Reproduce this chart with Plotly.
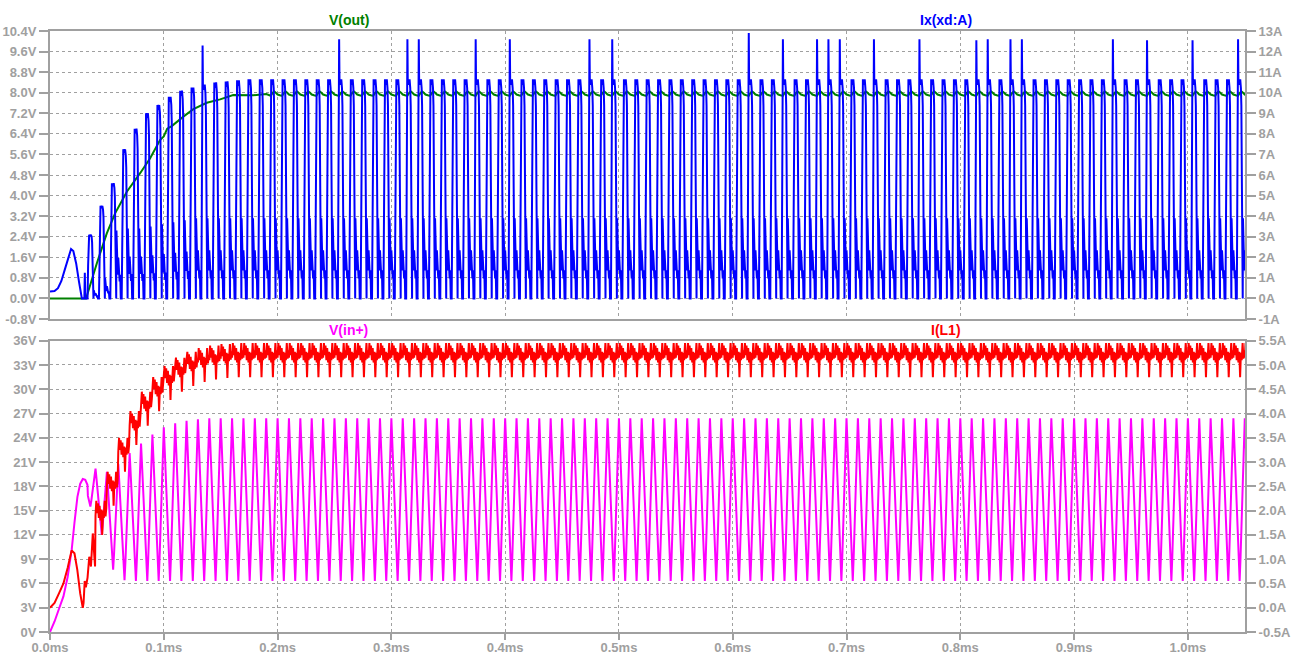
import numpy as np
import plotly.graph_objects as go

PERIOD = 0.01        # switching period in ms (100 kHz)
N_CYCLES = 106
US = 1e-3            # microseconds -> ms

# ---------------- Ix(xd:A)  [A] ----------------
ix_pre_t = [0.0, 0.004, 0.007, 0.010, 0.013, 0.016, 0.0185, 0.0205, 0.023, 0.0255,
            0.0275, 0.028, 0.0302, 0.0306, 0.031, 0.0329]
ix_pre_a = [0.34, 0.36, 0.5, 0.85, 1.4, 2.0, 2.4, 2.3, 1.7, 0.8,
            0.05, 0.0, 0.0, 1.25, 0.0, 0.0]
ix_offset_us = 3.0
ix_main_phase = [0.0, 0.5, 0.9, 1.4, 2.2, 3.0, 3.6, 4.0, 4.5, 4.9]
ix_main_shape = [0.0, 0.52, 0.9, 1.0, 0.975, 1.0, 0.96, 0.88, 0.5, 0.0]
ix_ring_phase = [5.2, 5.4, 5.9, 6.5, 7.0, 7.6, 8.2, 8.7, 9.2]
ix_ring_shape = [0.0, 1.0, 0.75, 0.35, 0.6, 0.45, 0.25, 0.35, 0.0]
ix_first_cycle = 3
ix_main_amp = [3.1, 4.5, 5.6, 7.25, 8.25, 9.0, 9.4, 9.8, 10.1, 10.25, 10.4, 10.5, 10.55, 10.6]
ix_main_amp_steady = 10.65
ix_ring_amp = [0.4, 1.0, 3.3, 3.4, 3.4, 3.5, 3.6, 3.7, 3.8]
ix_ring_amp_steady = 3.9
ix_spike_phase = 1.1
ix_spike_cycles = [13, 25, 31, 32, 37, 40, 47, 49, 61, 64, 67, 68, 69, 72, 76,
                   81, 82, 84, 85, 93, 96, 100, 104]
ix_spike_a = [12.3, 12.6, 12.6, 12.6, 12.6, 12.6, 12.6, 12.6, 12.9, 12.6, 12.6, 12.6,
              12.6, 12.6, 12.6, 12.55, 12.6, 12.6, 12.6, 12.6, 12.55, 12.55, 12.6]

# ---------------- V(out)  [V] ----------------
vout_pre_t = [0.0, 0.0317, 0.0411, 0.0499, 0.0572, 0.0675, 0.0792, 0.088, 0.0967,
              0.1, 0.103, 0.107, 0.1172, 0.126, 0.1378, 0.1495, 0.161, 0.1785, 0.19]
vout_pre_v = [0.0, 0.0, 1.36, 2.53, 3.31, 4.15, 4.87, 5.45, 6.16,
              6.3, 6.6, 6.7, 7.07, 7.36, 7.61, 7.74, 7.91, 7.9, 7.95]
vout_phase = [0.0, 2.0, 4.0, 5.5, 7.0, 8.5]
vout_ripple = [7.93, 7.90, 7.88, 7.98, 8.05, 8.0]
vout_first_cycle = 19

# ---------------- V(in+)  [V] ----------------
vin_pre_t = [0.0, 0.004, 0.008, 0.0118, 0.0155, 0.0191, 0.0215, 0.0241, 0.0265,
             0.0288, 0.031, 0.0329]
vin_pre_v = [0.0, 1.3, 2.9, 4.4, 6.8, 10.2, 13.5, 16.7, 18.3, 18.9, 18.8, 18.2]
vin_fall_phase = [0.0, 0.4, 1.5, 2.2, 3.3, 4.6, 5.5]
vin_fall_shape = [1.0, 0.93, 0.72, 0.62, 0.40, 0.12, 0.0]
vin_rise_phase = [6.3, 7.2, 7.8, 8.8, 9.6]
vin_rise_shape = [0.15, 0.38, 0.5, 0.75, 0.95]
vin_first_cycle = 3
vin_peak = [18.8, 20.2, 19.8, 20.8, 22.1, 23.3, 24.4, 25.3, 25.8, 26.1, 26.3]
vin_peak_steady = 26.4
vin_valley = [15.5, 12.0, 7.7, 6.4, 6.3]
vin_valley_steady = 6.3

# ---------------- I(L1)  [A] ----------------
il_pre_t = [0.0, 0.004, 0.008, 0.0118, 0.0155, 0.019, 0.0215, 0.024, 0.0265, 0.0288,
            0.0295, 0.0305, 0.0315, 0.033, 0.0345, 0.036, 0.0376, 0.0396]
il_pre_a = [0.0, 0.1, 0.3, 0.5, 0.82, 1.18, 1.12, 0.78, 0.3, 0.0,
            0.1, 0.55, 0.42, 0.62, 1.05, 0.85, 1.53, 0.85]
il_phase = [0.0, 0.7, 1.4, 2.1, 2.9, 3.6, 4.4, 5.2, 5.9, 6.6, 7.3, 8.1, 8.8, 9.5]
il_ripple = [0.0, 0.3, 0.05, 0.25, -0.05, 0.2, -0.1, 0.12, -0.4, 0.1, -0.05, 0.3, -0.02, 0.15]
il_first_cycle = 4
il_mean = [1.9, 2.5, 3.2, 3.75, 4.15, 4.45, 4.68, 4.85, 4.97, 5.05, 5.1, 5.13]
il_mean_steady = 5.15

# axis ticks
x_ticks = [i / 10 for i in range(11)]
top_v_ticks = [round(-0.8 + 0.8 * i, 1) for i in range(15)]
top_a_ticks = list(range(-1, 14))
bot_v_ticks = list(range(0, 37, 3))
bot_a_ticks = [round(-0.5 + 0.5 * i, 1) for i in range(13)]


def cycle_value(k, first, values, steady):
    i = k - first
    return values[i] if 0 <= i < len(values) else steady


def join(pre_t, pre_y, cyc_t, cyc_y):
    t = list(pre_t)
    y = list(pre_y)
    t_end = pre_t[-1]
    for a, b in zip(cyc_t, cyc_y):
        if a > t_end:
            t.append(a)
            y.append(b)
    return t, y


# Ix(xd:A): conduction pulse followed by a ringing tail each cycle
spikes = dict(zip(ix_spike_cycles, ix_spike_a))
ct, cy = [], []
for k in range(ix_first_cycle, N_CYCLES):
    t0 = k * PERIOD + ix_offset_us * US
    m = cycle_value(k, ix_first_cycle, ix_main_amp, ix_main_amp_steady)
    r = cycle_value(k, ix_first_cycle, ix_ring_amp, ix_ring_amp_steady)
    pts = [(p, s * m) for p, s in zip(ix_main_phase, ix_main_shape)]
    if k in spikes:
        pts.append((ix_spike_phase, spikes[k]))
    pts += [(p, s * r) for p, s in zip(ix_ring_phase, ix_ring_shape)]
    pts.sort()
    for p, v in pts:
        ct.append(t0 + p * US)
        cy.append(v)
ix_t, ix_y = join(ix_pre_t, ix_pre_a, ct, cy)

# V(out): start-up ramp then steady ripple
ct, cy = [], []
for k in range(vout_first_cycle, N_CYCLES):
    t0 = k * PERIOD
    for p, v in zip(vout_phase, vout_ripple):
        ct.append(t0 + p * US)
        cy.append(v)
vout_t, vout_y = join(vout_pre_t, vout_pre_v, ct, cy)

# V(in+): falling edge from this cycle's peak to valley, rising to next peak
ct, cy = [], []
for k in range(vin_first_cycle, N_CYCLES):
    t0 = k * PERIOD
    pk = cycle_value(k, vin_first_cycle, vin_peak, vin_peak_steady)
    pk_next = cycle_value(k + 1, vin_first_cycle, vin_peak, vin_peak_steady)
    vl = cycle_value(k, vin_first_cycle, vin_valley, vin_valley_steady)
    for p, s in zip(vin_fall_phase, vin_fall_shape):
        ct.append(t0 + p * US)
        cy.append(vl + (pk - vl) * s)
    for p, s in zip(vin_rise_phase, vin_rise_shape):
        ct.append(t0 + p * US)
        cy.append(vl + (pk_next - vl) * s)
vin_t, vin_y = join(vin_pre_t, vin_pre_v, ct, cy)

# I(L1): cycle mean plus ripple
ct, cy = [], []
for k in range(il_first_cycle, N_CYCLES):
    t0 = k * PERIOD
    m = cycle_value(k, il_first_cycle, il_mean, il_mean_steady)
    for p, d in zip(il_phase, il_ripple):
        ct.append(t0 + p * US)
        cy.append(m + d)
il_t, il_y = join(il_pre_t, il_pre_a, ct, cy)

GREEN = "#008000"
BLUE = "#0000ff"
MAGENTA = "#ff00ff"
RED = "#ff0000"
GRAY = "#a0a0a0"
LW = 2

fig = go.Figure()
fig.add_trace(go.Scatter(x=vout_t, y=vout_y, mode="lines", name="V(out)",
                         line=dict(color=GREEN, width=LW), xaxis="x2", yaxis="y"))
fig.add_trace(go.Scatter(x=ix_t, y=ix_y, mode="lines", name="Ix(xd:A)",
                         line=dict(color=BLUE, width=LW), xaxis="x2", yaxis="y2"))
fig.add_trace(go.Scatter(x=vin_t, y=vin_y, mode="lines", name="V(in+)",
                         line=dict(color=MAGENTA, width=LW), xaxis="x", yaxis="y3"))
fig.add_trace(go.Scatter(x=il_t, y=il_y, mode="lines", name="I(L1)",
                         line=dict(color=RED, width=LW), xaxis="x", yaxis="y4"))

tick_font = dict(family="Liberation Sans, Arial, sans-serif", size=13, color=GRAY, weight="bold")
common = dict(showline=True, linecolor=GRAY, linewidth=2, ticks="outside", ticklen=9,
              tickwidth=2, tickcolor=GRAY, tickfont=tick_font, zeroline=False,
              showgrid=True, gridcolor=GRAY, gridwidth=1, griddash="dot",
              fixedrange=True, automargin=False)

top_dom = [(632 - 319) / 601, 1.0]
bot_dom = [0.0, (632 - 340.7) / 601]

fig.update_layout(
    width=1294, height=655,
    margin=dict(l=50, r=49, t=31, b=23),
    paper_bgcolor="white", plot_bgcolor="white",
    showlegend=False,
    xaxis=dict(common, domain=[0, 1], anchor="y3", range=[0, 1.0502], mirror=True,
               tickmode="array", tickvals=x_ticks,
               ticktext=[f"{v:.1f}ms" for v in x_ticks], ticklen=6,
               ticklabelstandoff=-4),
    xaxis2=dict(common, domain=[0, 1], anchor="y", range=[0, 1.0502], mirror=True,
                tickmode="array", tickvals=x_ticks, showticklabels=False, ticks=""),
    yaxis=dict(common, domain=top_dom, anchor="x2", range=[-0.8, 10.4],
               tickmode="array", tickvals=top_v_ticks,
               ticktext=[f"{v:.1f}V" for v in top_v_ticks]),
    yaxis2=dict(common, overlaying="y", side="right", anchor="x2", range=[-1, 13],
                tickmode="array", tickvals=top_a_ticks,
                ticktext=[f"{v}A" for v in top_a_ticks], showgrid=False),
    yaxis3=dict(common, domain=bot_dom, anchor="x", range=[0, 36],
                tickmode="array", tickvals=bot_v_ticks,
                ticktext=[f"{v}V" for v in bot_v_ticks]),
    yaxis4=dict(common, overlaying="y3", side="right", anchor="x", range=[-0.5, 5.5],
                tickmode="array", tickvals=bot_a_ticks,
                ticktext=[f"{v:.1f}A" for v in bot_a_ticks], showgrid=False),
)

title_font = dict(family="Liberation Sans, Arial, sans-serif", size=14, weight="bold")
titles = [("V(out)", GREEN, 0.25, (632 - 20) / 601),
          ("Ix(xd:A)", BLUE, 0.75, (632 - 20) / 601),
          ("V(in+)", MAGENTA, 0.25, (632 - 330) / 601),
          ("I(L1)", RED, 0.75, (632 - 330) / 601)]
for text, color, x, y in titles:
    fig.add_annotation(text=text, x=x, y=y, xref="paper", yref="paper",
                       xanchor="center", yanchor="middle", showarrow=False,
                       font=dict(title_font, color=color))

fig.write_html("out.html")
